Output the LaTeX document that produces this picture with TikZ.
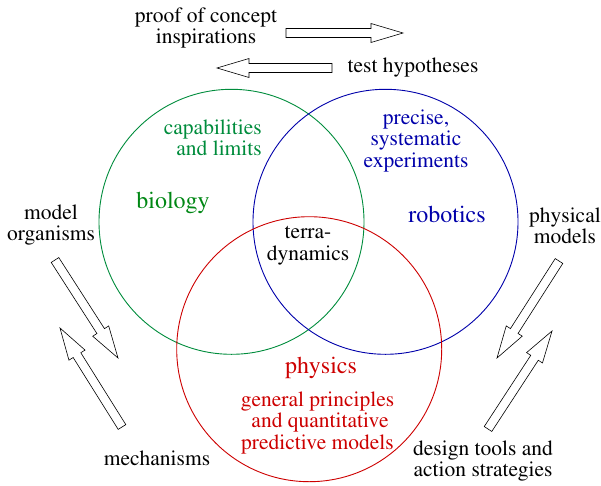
\documentclass[tikz,border=0pt]{standalone}
\usepackage[T1]{fontenc}
\usepackage{times}
\usetikzlibrary{calc}

\definecolor{biogreen}{RGB}{0,140,60}
\definecolor{biotext}{RGB}{0,135,20}
\definecolor{robblue}{RGB}{0,0,170}
\definecolor{physred}{RGB}{205,0,0}

\tikzset{
  field/.style={circle, draw, line width=0.9pt, minimum size=265pt, inner sep=0pt},
  lbl/.style={inner sep=0pt, align=center, font=\fontsize{21.5}{21.5}\selectfont},
  biglbl/.style={inner sep=0pt, font=\fontsize{24}{24}\selectfont},
  blockarrow/.style={draw=black, line width=0.6pt, fill=white, line join=miter},
}

% hollow block arrow from tail coordinate #1 to tip coordinate #2
\newcommand\blockarrow[2]{%
  \coordinate (#1-#2-h) at ($(#2)!32pt!(#1)$);
  \draw[blockarrow]
    ($(#1)!4.5pt!90:(#2)$) -- ($(#1-#2-h)!4.5pt!90:(#2)$)
    -- ($(#1-#2-h)!9.5pt!90:(#2)$) -- (#2)
    -- ($(#1-#2-h)!9.5pt!-90:(#2)$) -- ($(#1-#2-h)!4.5pt!-90:(#2)$)
    -- ($(#1)!4.5pt!-90:(#2)$) -- cycle;}

\begin{document}
\begin{tikzpicture}[x=1pt, y=-1pt]
  \useasboundingbox (0,0) rectangle (601,486);

  % the three overlapping fields
  \node[field, draw=biogreen] (bio) at (231.5,221.8) {};
  \node[field, draw=robblue]  (rob) at (385.5,221.8) {};
  \node[field, draw=physred]  (phy) at (309.2,349.2) {};

  % field titles
  \node[biglbl, text=biotext] (biot) at (173,203) {biology};
  \node[biglbl, text=robblue]  (robt) at (447,214) {robotics};
  \node[biglbl, text=physred]  (phyt) at (321,368) {physics};

  % field descriptions
  \node[lbl, text=biogreen, align=right, anchor=east] (cap) at (262,138) {capabilities\\and limits};
  \node[lbl, text=robblue] (exp) at (416,141) {precise,\\systematic\\experiments};
  \node[lbl, text=physred] (gen) at (317.5,423) {general principles\\\hspace*{5pt}and quantitative\\predictive models};
  \node[lbl] (terra) at (308,246) {terra-\\dynamics};

  % outer labels
  \node[lbl] (proof) at (206,28) {proof of concept\\inspirations};
  \node[lbl] (test) at (413,68) {test hypotheses};
  \node[lbl] (model) at (51,225) {model\\organisms};
  \node[lbl] (mech) at (157,458) {mechanisms};
  \node[lbl] (phys) at (565,226) {physical\\models};
  \node[lbl] (design) at (483,461) {design tools and\\action strategies};

  % block arrow end points
  \coordinate (tr1) at (286,33);  \coordinate (tr2) at (403,33);
  \coordinate (tl1) at (332,68);  \coordinate (tl2) at (217,68);
  \coordinate (ld1) at (55,260);  \coordinate (ld2) at (118,358);
  \coordinate (lu1) at (122,427); \coordinate (lu2) at (60,328);
  \coordinate (rd1) at (559,261); \coordinate (rd2) at (497,358);
  \coordinate (ru1) at (488,429); \coordinate (ru2) at (552,331);

  \blockarrow{tr1}{tr2}
  \blockarrow{tl1}{tl2}
  \blockarrow{ld1}{ld2}
  \blockarrow{lu1}{lu2}
  \blockarrow{rd1}{rd2}
  \blockarrow{ru1}{ru2}
\end{tikzpicture}
\end{document}
